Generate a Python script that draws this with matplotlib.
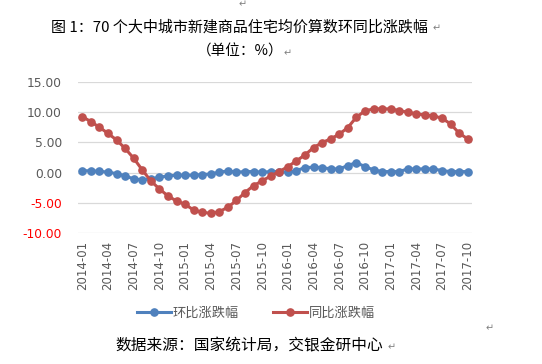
import numpy as np
import matplotlib.pyplot as plt

plt.rcParams['font.family'] = ['Noto Sans CJK SC', 'DejaVu Sans']

# monthly data 2014-01 .. 2017-10
months = ['%d-%02d' % (y, m) for y in range(2014, 2018) for m in range(1, 13)][:46]

# 环比涨跌幅 (month on month, %)
mom = [0.33, 0.28, 0.23, 0.07, -0.17, -0.55, -1.04, -1.21, -1.04, -0.77,
       -0.55, -0.43, -0.43, -0.43, -0.33, -0.22, 0.07, 0.28, 0.07, 0.17,
       0.17, 0.07, 0.17, 0.17, 0.07, 0.33, 0.83, 0.89, 0.83, 0.61,
       0.61, 1.16, 1.66, 0.99, 0.45, 0.17, 0.17, 0.17, 0.61, 0.61,
       0.61, 0.61, 0.33, 0.17, 0.17, 0.17]

# 同比涨跌幅 (year on year, %)
yoy = [9.27, 8.44, 7.50, 6.50, 5.40, 4.00, 2.38, 0.45, -1.37, -2.70,
       -3.86, -4.70, -5.25, -6.20, -6.57, -6.74, -6.46, -5.74, -4.60, -3.30,
       -2.15, -1.38, -0.55, 0.17, 0.99, 1.94, 2.93, 4.14, 4.97, 5.58,
       6.36, 7.45, 9.17, 10.21, 10.55, 10.55, 10.55, 10.26, 10.00, 9.72,
       9.55, 9.39, 9.00, 8.06, 6.52, 5.58]

series_names = ['环比涨跌幅', '同比涨跌幅']
title = '图 1：70 个大中城市新建商品住宅均价算数环同比涨跌幅'
unit = '（单位：%）'
source = '数据来源：国家统计局，交银金研中心'

W, H = 542, 364
fig = plt.figure(figsize=(W / 100, H / 100), dpi=100)
ax = fig.add_axes([78 / W, 1 - 233 / H, (472 - 78) / W, (233 - 82) / H])

x = np.arange(len(months))
ax.plot(x, mom, color='#4F81BD', lw=2.2, marker='o', ms=5.2, label=series_names[0], zorder=3)
ax.plot(x, yoy, color='#C0504D', lw=2.2, marker='o', ms=5.2, label=series_names[1], zorder=3)

ax.set_xlim(-0.5, len(months) - 0.5)
ax.set_ylim(-10, 15)
yt = np.arange(-10, 16, 5)
ax.set_yticks(yt)
ax.set_yticklabels(['%.2f' % v for v in yt], fontsize=8.8, family='DejaVu Sans')
for lab, v in zip(ax.get_yticklabels(), yt):
    lab.set_color('#FF0000' if v < 0 else '#595959')
ax.set_xticks(x[::3])
ax.set_xticklabels(months[::3], rotation=90, fontsize=8.5, color='#595959', family='DejaVu Sans')
ax.tick_params(length=0)
ax.tick_params(axis='y', pad=11.5)
ax.tick_params(axis='x', pad=6)
ax.grid(axis='y', color='#D9D9D9', lw=0.9)
ax.set_axisbelow(True)
for s in ax.spines.values():
    s.set_visible(False)

leg = fig.legend(loc='center', bbox_to_anchor=(256 / W, 1 - 313 / H), ncol=2,
                 frameon=False, fontsize=9.5, handlelength=2.6, columnspacing=2.6,
                 handletextpad=0.1)
for t in leg.get_texts():
    t.set_color('#595959')

fig.text(239 / W, 1 - 27 / H, title, ha='center', va='center', fontsize=10.8, fontweight='medium')
fig.text(433 / W, 1 - 28 / H, '↵', ha='left', va='center', fontsize=7, color='#808080', family='DejaVu Sans')
fig.text(240 / W, 1 - 52 / H, unit, ha='center', va='center', fontsize=10.5)
fig.text(284 / W, 1 - 53 / H, '↵', ha='left', va='center', fontsize=7, color='#808080', family='DejaVu Sans')
fig.text(249 / W, 1 - 346 / H, source, ha='center', va='center', fontsize=11.3)
fig.text(388 / W, 1 - 347 / H, '↵', ha='left', va='center', fontsize=7, color='#808080', family='DejaVu Sans')
fig.text(243 / W, 1 - 4 / H, '↵', ha='center', va='center', fontsize=7, color='#808080', family='DejaVu Sans')
fig.text(490 / W, 1 - 328 / H, '↵', ha='center', va='center', fontsize=7, color='#808080', family='DejaVu Sans')

fig.savefig('out.png', dpi=100)
